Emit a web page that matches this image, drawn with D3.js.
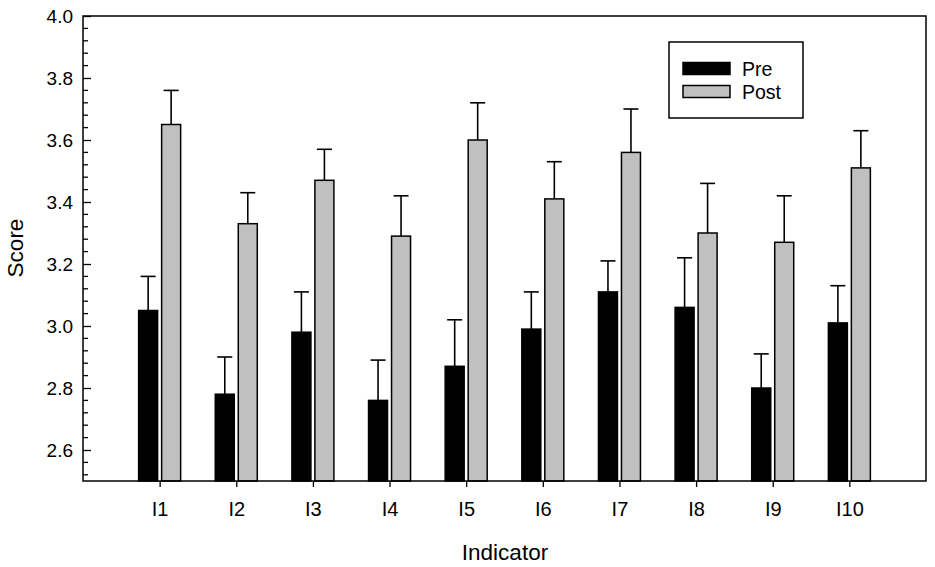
<!DOCTYPE html>
<html>
<head>
<meta charset="utf-8">
<script src="https://cdn.jsdelivr.net/npm/d3@7"></script>
<style>
  body { margin: 0; background: #fff; }
  text { font-family: "Liberation Sans", Arial, sans-serif; fill: #000; }
</style>
</head>
<body>
<div id="chart"></div>
<script>
const categories = ["I1", "I2", "I3", "I4", "I5", "I6", "I7", "I8", "I9", "I10"];
const preValues  = [3.05, 2.78, 2.98, 2.76, 2.87, 2.99, 3.11, 3.06, 2.80, 3.01];
const preErrTop  = [3.16, 2.90, 3.11, 2.89, 3.02, 3.11, 3.21, 3.22, 2.91, 3.13];
const postValues = [3.65, 3.33, 3.47, 3.29, 3.60, 3.41, 3.56, 3.30, 3.27, 3.51];
const postErrTop = [3.76, 3.43, 3.57, 3.42, 3.72, 3.53, 3.70, 3.46, 3.42, 3.63];
const yTicks = [2.6, 2.8, 3.0, 3.2, 3.4, 3.6, 3.8, 4.0];
const seriesNames = ["Pre", "Post"];
const seriesColors = ["#000000", "#c0c0c0"];

const width = 935, height = 567
const plotLeft = 83, plotRight = 926, plotTop = 16, plotBottom = 481

const svg = d3.select("#chart").append("svg")
    .attr("width", width).attr("height", height)

// categories sit at 1..10 on a 0..11 linear axis
const x = d3.scaleLinear().domain([0, categories.length + 1]).range([plotLeft, plotRight])
const y = d3.scaleLinear().domain([2.5, 4.0]).range([plotBottom, plotTop])

const barW = 19, gap = 2

const rows = categories.map((c, i) => ({
    cat: c, i: i,
    vals: [
        {s: 0, v: preValues[i], e: preErrTop[i]},
        {s: 1, v: postValues[i], e: postErrTop[i]}
    ]
}))

function barX(i, s) {
    const cx = x(i + 1)
    return s == 0 ? cx - gap - barW : cx + gap
}

const groups = svg.append("g").selectAll("g")
    .data(rows).enter().append("g")

// error bars (upper only)
groups.selectAll("line.err")
    .data(d => d.vals.map(v => Object.assign({i: d.i}, v)))
    .enter().append("line")
    .attr("class", "err")
    .attr("x1", d => barX(d.i, d.s) + barW / 2)
    .attr("x2", d => barX(d.i, d.s) + barW / 2)
    .attr("y1", d => y(d.v))
    .attr("y2", d => y(d.e))
    .attr("stroke", "#000").attr("stroke-width", 1.6)

groups.selectAll("line.cap")
    .data(d => d.vals.map(v => Object.assign({i: d.i}, v)))
    .enter().append("line")
    .attr("class", "cap")
    .attr("x1", d => barX(d.i, d.s) + barW / 2 - 7.5)
    .attr("x2", d => barX(d.i, d.s) + barW / 2 + 7.5)
    .attr("y1", d => y(d.e))
    .attr("y2", d => y(d.e))
    .attr("stroke", "#000").attr("stroke-width", 1.6)

groups.selectAll("rect")
    .data(d => d.vals.map(v => Object.assign({i: d.i}, v)))
    .enter().append("rect")
    .attr("x", d => barX(d.i, d.s))
    .attr("y", d => y(d.v))
    .attr("width", barW)
    .attr("height", d => y(2.5) - y(d.v))
    .attr("fill", d => seriesColors[d.s])
    .attr("stroke", "#000").attr("stroke-width", 1.5)

// frame
svg.append("rect")
    .attr("x", plotLeft).attr("y", plotTop)
    .attr("width", plotRight - plotLeft).attr("height", plotBottom - plotTop)
    .attr("fill", "none").attr("stroke", "#000").attr("stroke-width", 1.5)

// y axis: major + minor ticks, pointing inward
const minorTicks = d3.range(2.52, 4.0, 0.04).map(v => +v.toFixed(2))
    .filter(v => !yTicks.some(t => Math.abs(t - v) < 1e-6))

svg.append("g").selectAll("line")
    .data(minorTicks).enter().append("line")
    .attr("x1", plotLeft).attr("x2", plotLeft + 5)
    .attr("y1", d => y(d)).attr("y2", d => y(d))
    .attr("stroke", "#000").attr("stroke-width", 1.3)

const yAxis = svg.append("g")
    .attr("transform", `translate(${plotLeft},0)`)
    .call(d3.axisLeft(y).tickValues(yTicks).tickFormat(d3.format(".1f")).tickSizeInner(-8).tickSizeOuter(0).tickPadding(10))
yAxis.select(".domain").remove()
yAxis.selectAll("line").attr("stroke-width", 1.3)
yAxis.selectAll("text")
    .attr("font-size", 19).attr("font-family", "Liberation Sans, Arial, sans-serif")
    .attr("fill", "#000")

// x axis ticks point outward
const xAxis = svg.append("g")
    .attr("transform", `translate(0,${plotBottom})`)
    .call(d3.axisBottom(x).tickValues(d3.range(1, categories.length + 1))
        .tickFormat(d => categories[d - 1]).tickSize(6).tickSizeOuter(0).tickPadding(15))
xAxis.select(".domain").remove()
xAxis.selectAll("line").attr("stroke-width", 1.3)
xAxis.selectAll("text")
    .attr("font-size", 20).attr("font-family", "Liberation Sans, Arial, sans-serif")
    .attr("fill", "#000")

// axis titles
svg.append("text")
    .attr("x", 505).attr("y", 560)
    .attr("text-anchor", "middle").attr("font-size", 22.5)
    .text("Indicator")

svg.append("text")
    .attr("transform", `translate(23,248) rotate(-90)`)
    .attr("text-anchor", "middle").attr("font-size", 22.5)
    .text("Score")

// legend
const lg = svg.append("g")
lg.append("rect")
    .attr("x", 669).attr("y", 42).attr("width", 134).attr("height", 76)
    .attr("fill", "#fff").attr("stroke", "#000").attr("stroke-width", 1.5)

const items = lg.selectAll("g.item").data(seriesNames).enter().append("g")
    .attr("transform", (d, i) => `translate(0,${i * 23})`)
items.append("rect")
    .attr("x", 683).attr("y", 62.5).attr("width", 47).attr("height", 12)
    .attr("fill", (d, i) => seriesColors[i])
    .attr("stroke", "#000").attr("stroke-width", 1.5)
items.append("text")
    .attr("x", 742).attr("y", 75.5)
    .attr("font-size", 19.5)
    .text(d => d)
</script>
</body>
</html>
